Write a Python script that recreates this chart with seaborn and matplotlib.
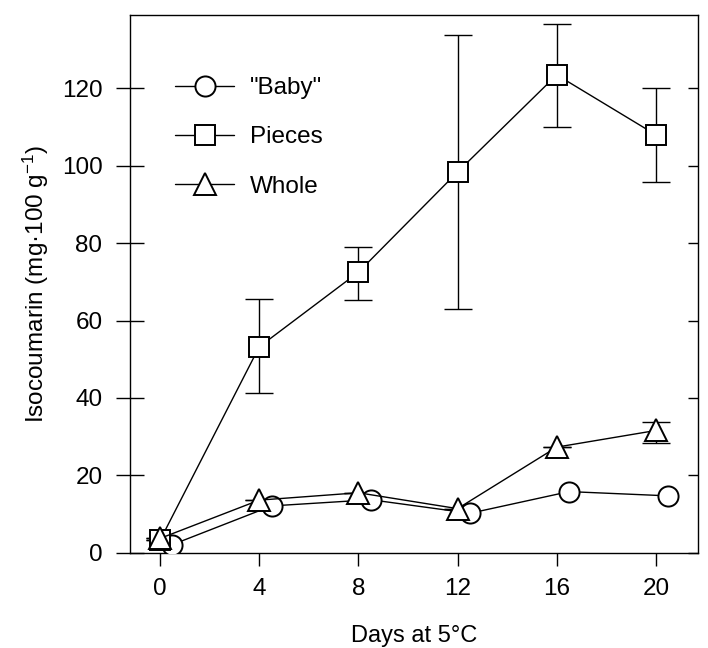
import matplotlib
matplotlib.use('Agg')
import matplotlib.pyplot as plt
import seaborn as sns
import numpy as np
import pandas as pd

# values
baby_days = [0.5, 4.5, 8.5, 12.5, 16.5, 20.5]
baby_vals = [2.1, 12.1, 13.7, 10.2, 15.8, 14.7]

pieces_days = [0, 4, 8, 12, 16, 20]
pieces_vals = [3.2, 53.2, 72.5, 98.4, 123.5, 108.0]
pieces_hi = [3.2, 65.6, 79.1, 133.9, 136.7, 120.0]
pieces_lo = [3.2, 41.2, 65.2, 63.1, 110.0, 95.9]

whole_days = [0, 4, 8, 12, 16, 20]
whole_vals = [3.7, 13.6, 15.5, 11.4, 27.3, 31.6]
whole_hi = [3.7, 13.6, 15.5, 11.4, 27.3, 33.9]
whole_lo = [3.7, 13.6, 15.5, 11.4, 27.3, 28.3]

xticks = [0, 4, 8, 12, 16, 20]
yticks = [0, 20, 40, 60, 80, 100, 120]

sns.set_style('ticks')
plt.rcParams['font.family'] = ['Liberation Sans', 'DejaVu Sans']
plt.rcParams['mathtext.fontset'] = 'custom'
plt.rcParams['mathtext.rm'] = 'Liberation Sans'
plt.rcParams['mathtext.it'] = 'Liberation Sans:italic'
for k in ['text.color', 'axes.labelcolor', 'xtick.color', 'ytick.color']:
    plt.rcParams[k] = 'black'

fig = plt.figure(figsize=(7.08, 6.48), dpi=100)
ax = fig.add_axes([0.184, 0.147, 0.802, 0.830])

mk = dict(color='black', linewidth=1.0, markerfacecolor='white',
          markeredgecolor='black', markeredgewidth=1.4, zorder=3)

sns.lineplot(x=baby_days, y=baby_vals, marker='o', markersize=14.5,
             label='"Baby"', ax=ax, **mk)
sns.lineplot(x=pieces_days, y=pieces_vals, marker='s', markersize=15,
             label='Pieces', ax=ax, **mk)
sns.lineplot(x=whole_days, y=whole_vals, marker='^', markersize=16,
             label='Whole', ax=ax, **mk)

p_err = [np.array(pieces_vals) - np.array(pieces_lo),
         np.array(pieces_hi) - np.array(pieces_vals)]
w_err = [np.array(whole_vals) - np.array(whole_lo),
         np.array(whole_hi) - np.array(whole_vals)]
ax.errorbar(pieces_days, pieces_vals, yerr=p_err, fmt='none', ecolor='black',
            elinewidth=1.0, capsize=10, capthick=1.0, zorder=2)
ax.errorbar(whole_days, whole_vals, yerr=w_err, fmt='none', ecolor='black',
            elinewidth=1.0, capsize=10, capthick=1.0, zorder=2)

ax.set_xlim(-1.2, 21.7)
ax.set_ylim(0, 139)
ax.set_xticks(xticks)
ax.set_yticks(yticks)

for s in ax.spines.values():
    s.set_linewidth(1.0)
    s.set_color('black')

ax.tick_params(axis='y', direction='inout', length=20, width=1.0,
               labelsize=17.5, pad=10, right=True, labelright=False)
ax.tick_params(axis='x', direction='out', length=9.5, width=1.0,
               labelsize=17.5, pad=9)
# right-side ticks point inward and are shorter
for t in ax.yaxis.get_major_ticks():
    t.tick2line.set_markersize(7)
    t.tick2line.set_marker(0)

ax.set_xlabel('Days at 5°C', fontsize=17, labelpad=18)
ax.set_ylabel('Isocoumarin (mg·100 g$^{-1}$)', fontsize=17.5, labelpad=8)

leg = ax.legend(loc='upper left', bbox_to_anchor=(0.04, 0.925), frameon=False,
                fontsize=17.5, handlelength=2.45, handletextpad=0.65,
                labelspacing=1.12)

fig.savefig('out.png', dpi=100)
